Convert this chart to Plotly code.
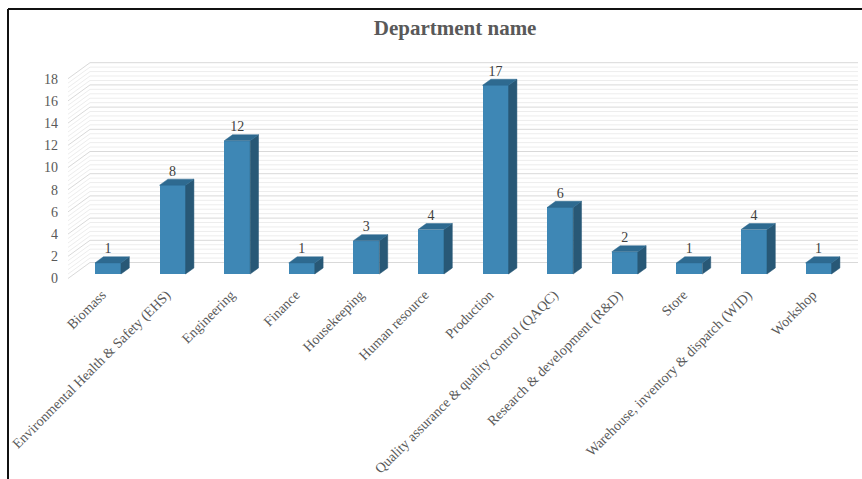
import plotly.graph_objects as go

# ---- data -----------------------------------------------------------------
departments = [
    "Biomass",
    "Environmental Health & Safety (EHS)",
    "Engineering",
    "Finance",
    "Housekeeping",
    "Human resource",
    "Production",
    "Quality assurance & quality control (QAQC)",
    "Research & development (R&D)",
    "Store",
    "Warehouse, inventory & dispatch (WID)",
    "Workshop",
]
counts = [1, 8, 12, 1, 3, 4, 17, 6, 2, 1, 4, 1]
y_ticks = list(range(0, 19, 2))
title_text = "Department name"

# ---- geometry of the pseudo-3D box -----------------------------------------
W, H = 862, 479
L, R, T, B = 68, 4, 50, 199          # plot-area margins (px)
PX_X = 64.6                           # px per category
PX_Y = 11.1                           # px per count unit
plot_w, plot_h = W - L - R, H - T - B

x_min = -(101.8 - L) / PX_X
x_max = x_min + plot_w / PX_X
y_min = -((H - B) - 278.5) / PX_Y
y_max = y_min + plot_h / PX_Y

DX, DY = 22 / PX_X, 16 / PX_Y         # full depth of the box (data units)
F0, F1 = 0.28, 0.66                   # front / back of the columns as depth fraction
BW = 26 / PX_X                        # column width
ddx, ddy = (F1 - F0) * DX, (F1 - F0) * DY
base = F0 * DY

FRONT = "#3E87B5"
TOP = "#2E6A90"
SIDE = "#285876"
MAJOR = "#D9D9D9"
MINOR = "#EDEDED"
FONT = "Liberation Serif, Times New Roman, serif"

fig = go.Figure()

# ---- walls: back-wall gridlines and side-wall diagonals ---------------------
shapes = []
minor_vals = [k * 0.4 for k in range(46) if k % 5 != 0]
for vals, col in ((minor_vals, MINOR), (y_ticks, MAJOR)):
    for v in vals:
        shapes.append(dict(type="line", layer="below", xref="x", yref="y",
                           x0=x_min + DX, y0=v + DY, x1=x_max, y1=v + DY,
                           line=dict(color=col, width=1)))
        shapes.append(dict(type="line", layer="below", xref="x", yref="y",
                           x0=x_min, y0=v, x1=x_min + DX, y1=v + DY,
                           line=dict(color=col, width=1)))


# chart frame (left and top edges)
def px_to_paper(px, py):
    return (px - L) / plot_w, ((H - B) - py) / plot_h


fx0, fy0 = px_to_paper(8, 9)
fx1, fy1 = px_to_paper(W + 5, H + 5)
shapes.append(dict(type="line", xref="paper", yref="paper", x0=fx0, y0=fy0, x1=fx0, y1=fy1,
                   line=dict(color="#111111", width=2)))
shapes.append(dict(type="line", xref="paper", yref="paper", x0=fx0, y0=fy0, x1=fx1, y1=fy0,
                   line=dict(color="#111111", width=2)))

# ---- columns ----------------------------------------------------------------
x_front = [i + F0 * DX for i in range(len(departments))]
# category labels sit on the front edge of the floor
x_labels = [i for i in range(len(departments))]

fig.add_trace(go.Bar(
    x=x_front, y=counts, base=[base] * len(counts), width=BW,
    marker=dict(color=FRONT, line=dict(width=0)),
    hovertext=departments, hoverinfo="text+y", showlegend=False,
))

for xf, v in zip(x_front, counts):
    xl, xr = xf - BW / 2, xf + BW / 2
    side_x = [xr, xr + ddx, xr + ddx, xr, xr]
    side_y = [base, base + ddy, base + ddy + v, base + v, base]
    top_x = [xl, xr, xr + ddx, xl + ddx, xl]
    top_y = [base + v, base + v, base + v + ddy, base + v + ddy, base + v]
    fig.add_trace(go.Scatter(x=side_x, y=side_y, mode="lines", fill="toself",
                             fillcolor=SIDE, line=dict(color=SIDE, width=0.5),
                             hoverinfo="skip", showlegend=False))
    fig.add_trace(go.Scatter(x=top_x, y=top_y, mode="lines", fill="toself",
                             fillcolor=TOP, line=dict(color=TOP, width=0.5),
                             hoverinfo="skip", showlegend=False))

# value labels above each column
fig.add_trace(go.Scatter(
    x=x_front, y=[base + v + ddy for v in counts],
    mode="text", text=[str(v) for v in counts], textposition="top center",
    textfont=dict(family=FONT, size=14, color="#404040"),
    hoverinfo="skip", showlegend=False,
))

fig.update_layout(
    width=W, height=H,
    margin=dict(l=L, r=R, t=T, b=B, pad=0, autoexpand=False),
    paper_bgcolor="white", plot_bgcolor="white",
    shapes=shapes,
    title=dict(text="<b>%s</b>" % title_text, x=0.49, xref="paper", xanchor="center",
               y=1 - 28 / H, yref="container", yanchor="middle",
               font=dict(family=FONT, size=21, color="#595959"),
               automargin=False),
    xaxis=dict(range=[x_min, x_max], showgrid=False, zeroline=False, showline=False,
               tickmode="array", tickvals=x_labels, ticktext=departments, tickangle=-45,
               ticks="", ticklabelstandoff=3, automargin=False,
               tickfont=dict(family=FONT, size=14, color="#595959"),
               fixedrange=True),
    yaxis=dict(range=[y_min, y_max], showgrid=False, zeroline=False, showline=False,
               tickmode="array", tickvals=y_ticks, ticks="", ticklabelstandoff=9,
               automargin=False,
               tickfont=dict(family=FONT, size=14, color="#595959"),
               fixedrange=True),
    bargap=0,
)

fig.write_html("out.html")
